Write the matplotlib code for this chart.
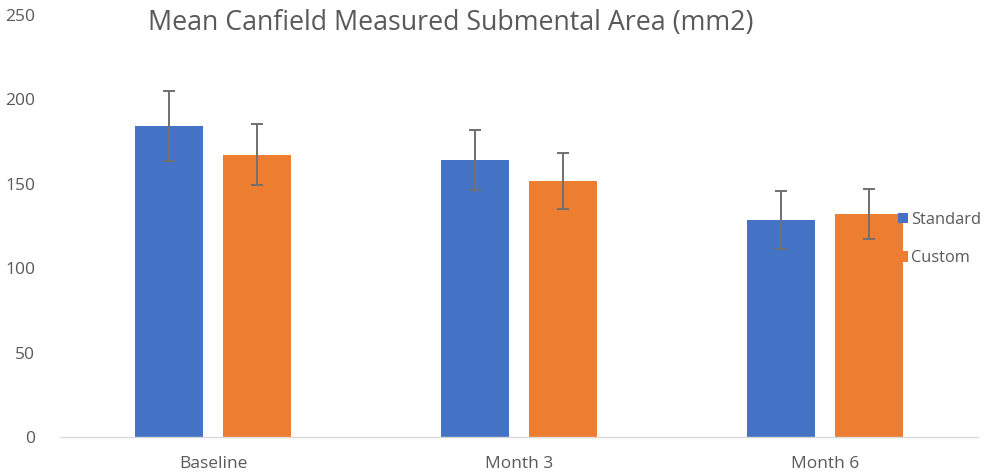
import numpy as np
import matplotlib.pyplot as plt

plt.rcParams.update({
    "font.family": ["Open Sans", "DejaVu Sans"],
    "font.size": 12,
})

categories = ["Baseline", "Month 3", "Month 6"]
standard = [184.5, 164.3, 128.7]
standard_err = [20.7, 17.8, 17.3]
custom = [167.3, 151.6, 132.1]
custom_err = [18.3, 16.7, 15.0]

BLUE = "#4472C4"
ORANGE = "#ED7D31"
GREY = "#595959"

fig = plt.figure(figsize=(9.87, 4.73), dpi=100)
ax = fig.add_axes([60 / 987, 36 / 473, 918 / 987, 422 / 473])

x = np.arange(len(categories))
w = 0.222
off = 0.144
err_kw = dict(ecolor="#707070", elinewidth=1.4, capsize=4, capthick=1.4)
ax.bar(x - off, standard, w, yerr=standard_err, color=BLUE, label="Standard",
       error_kw=err_kw)
ax.bar(x + off, custom, w, yerr=custom_err, color=ORANGE, label="Custom",
       error_kw=err_kw)

ax.set_xlim(-0.5, len(categories) - 0.5)
ax.set_ylim(0, 250)
ax.set_yticks(np.arange(0, 251, 50))
ax.set_xticks(x)
ax.set_xticklabels(categories)

for s in ["top", "right", "left"]:
    ax.spines[s].set_visible(False)
ax.spines["bottom"].set_color("#d9d9d9")
ax.spines["bottom"].set_linewidth(1.0)
ax.tick_params(axis="both", length=0, colors=GREY, labelsize=12.5)
ax.tick_params(axis="y", pad=18)
ax.tick_params(axis="x", pad=14)

fig.text(451 / 987, 1 - 23 / 473, "Mean Canfield Measured Submental Area (mm2)",
         ha="center", va="center", fontsize=19.3, color=GREY)

leg = fig.legend(loc="upper left", bbox_to_anchor=(898 / 987, 1 - 212 / 473),
                 frameon=False, handlelength=0.6, handleheight=0.6,
                 handletextpad=0.2, labelspacing=1.35, fontsize=11.8,
                 borderaxespad=0, borderpad=0)
for t in leg.get_texts():
    t.set_color(GREY)

fig.savefig("out.png", dpi=100)
